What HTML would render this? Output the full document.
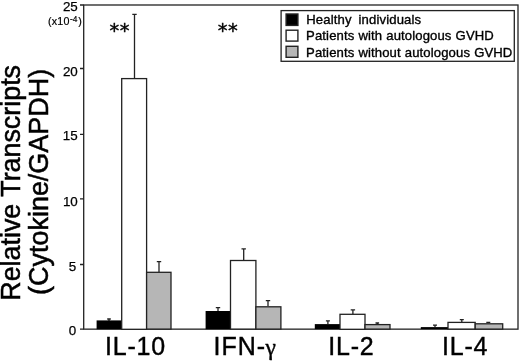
<!DOCTYPE html>
<html><head><meta charset="utf-8"><title>Relative Transcripts</title>
<style>
html,body{margin:0;padding:0;background:#fff;}
body{width:520px;height:361px;overflow:hidden;}
svg{display:block;font-family:"Liberation Sans",sans-serif;fill:#000;}
</style></head><body>
<svg width="520" height="361" viewBox="0 0 520 361">
<rect width="520" height="361" fill="#fff"/>
<!-- frame -->
<g stroke="#222" stroke-width="1.3" fill="none">
<rect x="83.7" y="5" width="434.3" height="324.15"/>
<!-- ticks -->
<path d="M80 5H83.7M80 68.5H83.7M80 134.4H83.7M80 198.9H83.7M80 264.5H83.7M80 329.15H83.7"/>
<!-- error bars -->
<path d="M109 321V319M107.2 319H110.8"/>
<path d="M134.5 78V14.4M132.3 14.4H136.7"/>
<path d="M159 272V261.6M156.8 261.6H161.2"/>
<path d="M218 311V307.7M215.8 307.7H220.2"/>
<path d="M243.7 260V248.9M241.5 248.9H245.9"/>
<path d="M268 306V300.7M265.8 300.7H270.2"/>
<path d="M327.9 324V320.8M325.9 320.8H329.9"/>
<path d="M352.9 314V309.9M350.7 309.9H355.1"/>
<path d="M377.3 324V323M375.5 323H379.1"/>
<path d="M435 327V325.1M433 325.1H437"/>
<path d="M461.8 322V319.6M459.8 319.6H463.8"/>
<path d="M488.3 323V322.4M486.3 322.4H490.3"/>
</g>
<!-- bars -->
<g stroke="#222" stroke-width="1.3">
<rect x="96.6" y="320.4" width="25" height="8.8" fill="#000" stroke="none"/>
<rect x="121.7" y="78.6" width="24.9" height="250.7" fill="#fff"/>
<rect x="146.6" y="272.3" width="24.4" height="56.8" fill="#b6b6b6"/>

<rect x="205.6" y="311" width="25" height="18.2" fill="#000" stroke="none"/>
<rect x="230.5" y="260.5" width="25.4" height="68.6" fill="#fff"/>
<rect x="255.9" y="306.8" width="25" height="22.3" fill="#b6b6b6"/>

<rect x="314.8" y="324.1" width="25.2" height="5" fill="#000" stroke="none"/>
<rect x="340" y="314.3" width="25" height="15" fill="#fff"/>
<rect x="365" y="324.6" width="25" height="4.5" fill="#b6b6b6"/>

<rect x="420.8" y="327.1" width="27.2" height="2" fill="#000" stroke="none"/>
<rect x="448" y="322.4" width="27.2" height="6.7" fill="#fff"/>
<rect x="475.2" y="323.8" width="27.5" height="5.3" fill="#b6b6b6"/>
</g>
<!-- y tick labels -->
<g font-size="13.4" text-anchor="end" stroke="#000" stroke-width="0.25">
<text x="77.8" y="10.6">25</text>
<text x="77.8" y="75.5">20</text>
<text x="77.6" y="140.3">15</text>
<text x="77.8" y="205.6">10</text>
<text x="76.2" y="270.5">5</text>
<text x="76.3" y="335.2">0</text>
</g>
<text x="48" y="25.2" font-size="10.7" letter-spacing="0.2" stroke="#000" stroke-width="0.2">(x10<tspan dy="-3" dx="0.3" font-size="8.3">-4</tspan><tspan dy="3" dx="0.5">)</tspan></text>
<!-- legend -->
<rect x="281.1" y="10.6" width="233.2" height="50.7" fill="#fff" stroke="#222" stroke-width="1.3"/>
<g stroke="#222" stroke-width="1.4">
<rect x="286.1" y="14" width="11.8" height="11.4" fill="#000"/>
<rect x="286.1" y="30.2" width="11.8" height="10.9" fill="#fff"/>
<rect x="286.1" y="46.3" width="11.8" height="11" fill="#b6b6b6"/>
</g>
<g font-size="13.1" word-spacing="0.3" letter-spacing="0.12" stroke="#000" stroke-width="0.35">
<text y="24.4" letter-spacing="0.15"><tspan x="306.2">Healthy </tspan><tspan x="358.5">individuals</tspan></text>
<text x="306.1" y="40.3">Patients with autologous GVHD</text>
<text x="306.1" y="56.8">Patients without autologous GVHD</text>
</g>
<!-- x labels -->
<g font-size="25" letter-spacing="0.8" stroke="#000" stroke-width="0.4">
<text x="105" y="354.8">IL-10</text>
<text x="213.6" y="354.8" letter-spacing="1">IFN-<tspan dx="-0.8" font-family="'Liberation Serif',serif" font-size="23.5">γ</tspan></text>
<text x="328.2" y="354.8">IL-2</text>
<text x="442" y="354.8">IL-4</text>
</g>
<!-- y label -->
<g stroke="#000" stroke-width="0.5">
<text font-size="26.85" transform="translate(20.2,300.7) rotate(-90)">Relative Transcripts</text>
<text font-size="26.95" transform="translate(47.9,294.9) rotate(-90)">(Cytokine/GAPDH)</text>
</g>
<g font-size="19.5" font-family="'DejaVu Sans',sans-serif" letter-spacing="0.6" stroke="#000" stroke-width="0.4">
<text x="109.5" y="36.6">**</text>
<text x="217.7" y="36.6">**</text>
</g>
</svg>
</body></html>
